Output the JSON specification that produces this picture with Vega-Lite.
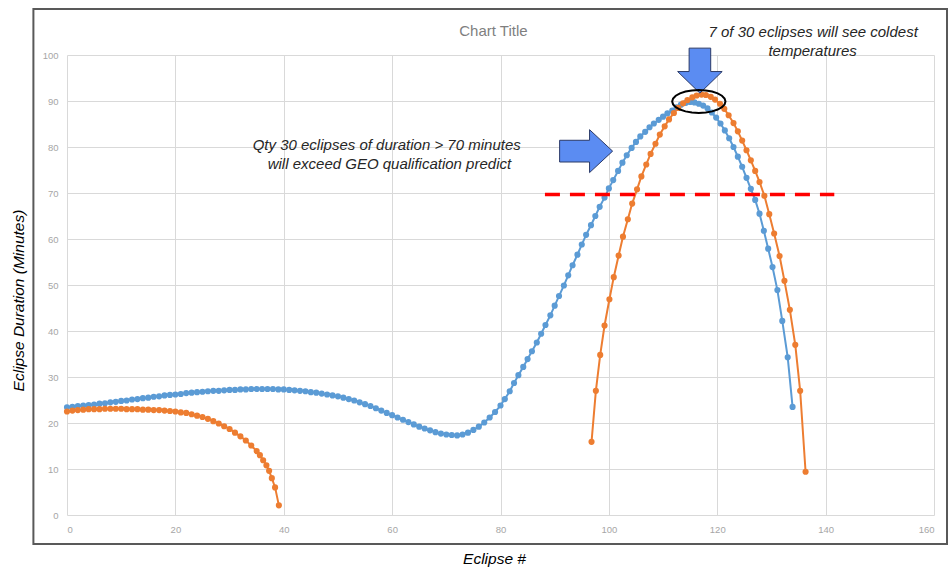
{
  "$schema": "https://vega.github.io/schema/vega-lite/v6.json",
  "width": 867,
  "height": 460,
  "autosize": {"type": "none"},
  "padding": {"left": 67, "top": 55, "right": 17, "bottom": 52},
  "background": "white",
  "config": {
    "view": {"stroke": null},
    "axis": {
      "gridColor": "#D9D9D9",
      "gridWidth": 1,
      "domain": false,
      "ticks": false,
      "labelColor": "#A6A6A6",
      "labelFont": "Liberation Sans",
      "labelFontSize": 9.5,
      "titleFont": "Liberation Sans",
      "titleFontStyle": "italic",
      "titleFontWeight": "normal",
      "titleColor": "#000000",
      "titleFontSize": 15.5
    }
  },
  "datasets": {
    "one": [{}],
    "eclipses": [
      {"n": 0, "d": 23.4, "series": "Series1", "seg": "B"},
      {"n": 1, "d": 23.5, "series": "Series1", "seg": "B"},
      {"n": 2, "d": 23.7, "series": "Series1", "seg": "B"},
      {"n": 3, "d": 23.8, "series": "Series1", "seg": "B"},
      {"n": 4, "d": 23.9, "series": "Series1", "seg": "B"},
      {"n": 5, "d": 24.0, "series": "Series1", "seg": "B"},
      {"n": 6, "d": 24.2, "series": "Series1", "seg": "B"},
      {"n": 7, "d": 24.3, "series": "Series1", "seg": "B"},
      {"n": 8, "d": 24.5, "series": "Series1", "seg": "B"},
      {"n": 9, "d": 24.6, "series": "Series1", "seg": "B"},
      {"n": 10, "d": 24.8, "series": "Series1", "seg": "B"},
      {"n": 11, "d": 24.9, "series": "Series1", "seg": "B"},
      {"n": 12, "d": 25.1, "series": "Series1", "seg": "B"},
      {"n": 13, "d": 25.2, "series": "Series1", "seg": "B"},
      {"n": 14, "d": 25.4, "series": "Series1", "seg": "B"},
      {"n": 15, "d": 25.5, "series": "Series1", "seg": "B"},
      {"n": 16, "d": 25.7, "series": "Series1", "seg": "B"},
      {"n": 17, "d": 25.8, "series": "Series1", "seg": "B"},
      {"n": 18, "d": 26.0, "series": "Series1", "seg": "B"},
      {"n": 19, "d": 26.1, "series": "Series1", "seg": "B"},
      {"n": 20, "d": 26.2, "series": "Series1", "seg": "B"},
      {"n": 21, "d": 26.3, "series": "Series1", "seg": "B"},
      {"n": 22, "d": 26.5, "series": "Series1", "seg": "B"},
      {"n": 23, "d": 26.6, "series": "Series1", "seg": "B"},
      {"n": 24, "d": 26.7, "series": "Series1", "seg": "B"},
      {"n": 25, "d": 26.8, "series": "Series1", "seg": "B"},
      {"n": 26, "d": 26.9, "series": "Series1", "seg": "B"},
      {"n": 27, "d": 27.0, "series": "Series1", "seg": "B"},
      {"n": 28, "d": 27.0, "series": "Series1", "seg": "B"},
      {"n": 29, "d": 27.1, "series": "Series1", "seg": "B"},
      {"n": 30, "d": 27.2, "series": "Series1", "seg": "B"},
      {"n": 31, "d": 27.2, "series": "Series1", "seg": "B"},
      {"n": 32, "d": 27.3, "series": "Series1", "seg": "B"},
      {"n": 33, "d": 27.3, "series": "Series1", "seg": "B"},
      {"n": 34, "d": 27.4, "series": "Series1", "seg": "B"},
      {"n": 35, "d": 27.4, "series": "Series1", "seg": "B"},
      {"n": 36, "d": 27.4, "series": "Series1", "seg": "B"},
      {"n": 37, "d": 27.4, "series": "Series1", "seg": "B"},
      {"n": 38, "d": 27.4, "series": "Series1", "seg": "B"},
      {"n": 39, "d": 27.3, "series": "Series1", "seg": "B"},
      {"n": 40, "d": 27.3, "series": "Series1", "seg": "B"},
      {"n": 41, "d": 27.2, "series": "Series1", "seg": "B"},
      {"n": 42, "d": 27.1, "series": "Series1", "seg": "B"},
      {"n": 43, "d": 27.0, "series": "Series1", "seg": "B"},
      {"n": 44, "d": 26.9, "series": "Series1", "seg": "B"},
      {"n": 45, "d": 26.7, "series": "Series1", "seg": "B"},
      {"n": 46, "d": 26.6, "series": "Series1", "seg": "B"},
      {"n": 47, "d": 26.4, "series": "Series1", "seg": "B"},
      {"n": 48, "d": 26.2, "series": "Series1", "seg": "B"},
      {"n": 49, "d": 26.0, "series": "Series1", "seg": "B"},
      {"n": 50, "d": 25.8, "series": "Series1", "seg": "B"},
      {"n": 51, "d": 25.5, "series": "Series1", "seg": "B"},
      {"n": 52, "d": 25.2, "series": "Series1", "seg": "B"},
      {"n": 53, "d": 24.9, "series": "Series1", "seg": "B"},
      {"n": 54, "d": 24.5, "series": "Series1", "seg": "B"},
      {"n": 55, "d": 24.1, "series": "Series1", "seg": "B"},
      {"n": 56, "d": 23.7, "series": "Series1", "seg": "B"},
      {"n": 57, "d": 23.2, "series": "Series1", "seg": "B"},
      {"n": 58, "d": 22.7, "series": "Series1", "seg": "B"},
      {"n": 59, "d": 22.2, "series": "Series1", "seg": "B"},
      {"n": 60, "d": 21.7, "series": "Series1", "seg": "B"},
      {"n": 61, "d": 21.2, "series": "Series1", "seg": "B"},
      {"n": 62, "d": 20.7, "series": "Series1", "seg": "B"},
      {"n": 63, "d": 20.2, "series": "Series1", "seg": "B"},
      {"n": 64, "d": 19.7, "series": "Series1", "seg": "B"},
      {"n": 65, "d": 19.2, "series": "Series1", "seg": "B"},
      {"n": 66, "d": 18.8, "series": "Series1", "seg": "B"},
      {"n": 67, "d": 18.4, "series": "Series1", "seg": "B"},
      {"n": 68, "d": 18.0, "series": "Series1", "seg": "B"},
      {"n": 69, "d": 17.7, "series": "Series1", "seg": "B"},
      {"n": 70, "d": 17.5, "series": "Series1", "seg": "B"},
      {"n": 71, "d": 17.4, "series": "Series1", "seg": "B"},
      {"n": 72, "d": 17.3, "series": "Series1", "seg": "B"},
      {"n": 73, "d": 17.5, "series": "Series1", "seg": "B"},
      {"n": 74, "d": 17.9, "series": "Series1", "seg": "B"},
      {"n": 75, "d": 18.5, "series": "Series1", "seg": "B"},
      {"n": 76, "d": 19.2, "series": "Series1", "seg": "B"},
      {"n": 77, "d": 20.1, "series": "Series1", "seg": "B"},
      {"n": 78, "d": 21.2, "series": "Series1", "seg": "B"},
      {"n": 79, "d": 22.4, "series": "Series1", "seg": "B"},
      {"n": 80, "d": 23.8, "series": "Series1", "seg": "B"},
      {"n": 80.8, "d": 25.2, "series": "Series1", "seg": "B"},
      {"n": 81.7, "d": 26.9, "series": "Series1", "seg": "B"},
      {"n": 82.5, "d": 28.7, "series": "Series1", "seg": "B"},
      {"n": 83.3, "d": 30.4, "series": "Series1", "seg": "B"},
      {"n": 84.2, "d": 32.2, "series": "Series1", "seg": "B"},
      {"n": 85.0, "d": 33.9, "series": "Series1", "seg": "B"},
      {"n": 85.8, "d": 35.6, "series": "Series1", "seg": "B"},
      {"n": 86.7, "d": 37.5, "series": "Series1", "seg": "B"},
      {"n": 87.5, "d": 39.4, "series": "Series1", "seg": "B"},
      {"n": 88.3, "d": 41.3, "series": "Series1", "seg": "B"},
      {"n": 89.2, "d": 43.4, "series": "Series1", "seg": "B"},
      {"n": 90.0, "d": 45.5, "series": "Series1", "seg": "B"},
      {"n": 90.8, "d": 47.6, "series": "Series1", "seg": "B"},
      {"n": 91.7, "d": 49.9, "series": "Series1", "seg": "B"},
      {"n": 92.5, "d": 52.1, "series": "Series1", "seg": "B"},
      {"n": 93.3, "d": 54.3, "series": "Series1", "seg": "B"},
      {"n": 94.2, "d": 56.6, "series": "Series1", "seg": "B"},
      {"n": 95.0, "d": 58.8, "series": "Series1", "seg": "B"},
      {"n": 95.8, "d": 60.9, "series": "Series1", "seg": "B"},
      {"n": 96.7, "d": 63.0, "series": "Series1", "seg": "B"},
      {"n": 97.5, "d": 65.0, "series": "Series1", "seg": "B"},
      {"n": 98.3, "d": 67.0, "series": "Series1", "seg": "B"},
      {"n": 99.2, "d": 69.0, "series": "Series1", "seg": "B"},
      {"n": 100.0, "d": 71.0, "series": "Series1", "seg": "B"},
      {"n": 100.8, "d": 72.8, "series": "Series1", "seg": "B"},
      {"n": 101.7, "d": 74.8, "series": "Series1", "seg": "B"},
      {"n": 102.5, "d": 76.6, "series": "Series1", "seg": "B"},
      {"n": 103.3, "d": 78.2, "series": "Series1", "seg": "B"},
      {"n": 104.2, "d": 79.8, "series": "Series1", "seg": "B"},
      {"n": 105.0, "d": 81.1, "series": "Series1", "seg": "B"},
      {"n": 105.8, "d": 82.3, "series": "Series1", "seg": "B"},
      {"n": 106.7, "d": 83.3, "series": "Series1", "seg": "B"},
      {"n": 107.5, "d": 84.3, "series": "Series1", "seg": "B"},
      {"n": 108.3, "d": 85.1, "series": "Series1", "seg": "B"},
      {"n": 109.2, "d": 85.9, "series": "Series1", "seg": "B"},
      {"n": 110.0, "d": 86.6, "series": "Series1", "seg": "B"},
      {"n": 110.8, "d": 87.3, "series": "Series1", "seg": "B"},
      {"n": 111.7, "d": 87.9, "series": "Series1", "seg": "B"},
      {"n": 112.5, "d": 88.6, "series": "Series1", "seg": "B"},
      {"n": 113.3, "d": 89.2, "series": "Series1", "seg": "B"},
      {"n": 114.2, "d": 89.6, "series": "Series1", "seg": "B"},
      {"n": 115.0, "d": 89.8, "series": "Series1", "seg": "B"},
      {"n": 115.8, "d": 89.7, "series": "Series1", "seg": "B"},
      {"n": 116.6, "d": 89.4, "series": "Series1", "seg": "B"},
      {"n": 117.4, "d": 89.0, "series": "Series1", "seg": "B"},
      {"n": 118.2, "d": 88.4, "series": "Series1", "seg": "B"},
      {"n": 119.0, "d": 87.5, "series": "Series1", "seg": "B"},
      {"n": 119.8, "d": 86.4, "series": "Series1", "seg": "B"},
      {"n": 120.6, "d": 85.1, "series": "Series1", "seg": "B"},
      {"n": 121.4, "d": 83.6, "series": "Series1", "seg": "B"},
      {"n": 122.2, "d": 81.9, "series": "Series1", "seg": "B"},
      {"n": 123.0, "d": 80.0, "series": "Series1", "seg": "B"},
      {"n": 123.8, "d": 77.9, "series": "Series1", "seg": "B"},
      {"n": 124.6, "d": 75.7, "series": "Series1", "seg": "B"},
      {"n": 125.4, "d": 73.3, "series": "Series1", "seg": "B"},
      {"n": 126.2, "d": 70.9, "series": "Series1", "seg": "B"},
      {"n": 127.0, "d": 68.5, "series": "Series1", "seg": "B"},
      {"n": 127.8, "d": 65.5, "series": "Series1", "seg": "B"},
      {"n": 128.6, "d": 61.8, "series": "Series1", "seg": "B"},
      {"n": 129.4, "d": 57.9, "series": "Series1", "seg": "B"},
      {"n": 130.2, "d": 53.9, "series": "Series1", "seg": "B"},
      {"n": 131.1, "d": 48.9, "series": "Series1", "seg": "B"},
      {"n": 132.0, "d": 42.2, "series": "Series1", "seg": "B"},
      {"n": 133.0, "d": 34.3, "series": "Series1", "seg": "B"},
      {"n": 133.9, "d": 23.5, "series": "Series1", "seg": "B"},
      {"n": 0, "d": 22.5, "series": "Series2", "seg": "O1"},
      {"n": 1, "d": 22.7, "series": "Series2", "seg": "O1"},
      {"n": 2, "d": 22.8, "series": "Series2", "seg": "O1"},
      {"n": 3, "d": 22.9, "series": "Series2", "seg": "O1"},
      {"n": 4, "d": 23.0, "series": "Series2", "seg": "O1"},
      {"n": 5, "d": 23.0, "series": "Series2", "seg": "O1"},
      {"n": 6, "d": 23.0, "series": "Series2", "seg": "O1"},
      {"n": 7, "d": 23.1, "series": "Series2", "seg": "O1"},
      {"n": 8, "d": 23.1, "series": "Series2", "seg": "O1"},
      {"n": 9, "d": 23.1, "series": "Series2", "seg": "O1"},
      {"n": 10, "d": 23.1, "series": "Series2", "seg": "O1"},
      {"n": 11, "d": 23.0, "series": "Series2", "seg": "O1"},
      {"n": 12, "d": 23.0, "series": "Series2", "seg": "O1"},
      {"n": 13, "d": 23.0, "series": "Series2", "seg": "O1"},
      {"n": 14, "d": 22.9, "series": "Series2", "seg": "O1"},
      {"n": 15, "d": 22.9, "series": "Series2", "seg": "O1"},
      {"n": 16, "d": 22.8, "series": "Series2", "seg": "O1"},
      {"n": 17, "d": 22.8, "series": "Series2", "seg": "O1"},
      {"n": 18, "d": 22.7, "series": "Series2", "seg": "O1"},
      {"n": 19, "d": 22.6, "series": "Series2", "seg": "O1"},
      {"n": 20, "d": 22.5, "series": "Series2", "seg": "O1"},
      {"n": 21, "d": 22.3, "series": "Series2", "seg": "O1"},
      {"n": 22, "d": 22.2, "series": "Series2", "seg": "O1"},
      {"n": 23, "d": 21.9, "series": "Series2", "seg": "O1"},
      {"n": 24, "d": 21.6, "series": "Series2", "seg": "O1"},
      {"n": 25, "d": 21.3, "series": "Series2", "seg": "O1"},
      {"n": 26, "d": 20.9, "series": "Series2", "seg": "O1"},
      {"n": 27, "d": 20.4, "series": "Series2", "seg": "O1"},
      {"n": 28, "d": 19.9, "series": "Series2", "seg": "O1"},
      {"n": 29, "d": 19.3, "series": "Series2", "seg": "O1"},
      {"n": 30, "d": 18.7, "series": "Series2", "seg": "O1"},
      {"n": 31, "d": 17.9, "series": "Series2", "seg": "O1"},
      {"n": 32, "d": 17.1, "series": "Series2", "seg": "O1"},
      {"n": 33, "d": 16.2, "series": "Series2", "seg": "O1"},
      {"n": 34, "d": 15.1, "series": "Series2", "seg": "O1"},
      {"n": 35, "d": 13.9, "series": "Series2", "seg": "O1"},
      {"n": 35.6, "d": 13.0, "series": "Series2", "seg": "O1"},
      {"n": 36.2, "d": 11.9, "series": "Series2", "seg": "O1"},
      {"n": 36.8, "d": 10.8, "series": "Series2", "seg": "O1"},
      {"n": 37.3, "d": 9.6, "series": "Series2", "seg": "O1"},
      {"n": 37.8, "d": 8.0, "series": "Series2", "seg": "O1"},
      {"n": 38.4, "d": 6.0, "series": "Series2", "seg": "O1"},
      {"n": 39.1, "d": 2.1, "series": "Series2", "seg": "O1"},
      {"n": 96.8, "d": 15.9, "series": "Series2", "seg": "O2"},
      {"n": 97.6, "d": 27.0, "series": "Series2", "seg": "O2"},
      {"n": 98.4, "d": 34.8, "series": "Series2", "seg": "O2"},
      {"n": 99.2, "d": 41.2, "series": "Series2", "seg": "O2"},
      {"n": 100.1, "d": 46.9, "series": "Series2", "seg": "O2"},
      {"n": 100.9, "d": 51.7, "series": "Series2", "seg": "O2"},
      {"n": 101.8, "d": 56.4, "series": "Series2", "seg": "O2"},
      {"n": 102.6, "d": 60.5, "series": "Series2", "seg": "O2"},
      {"n": 103.5, "d": 64.3, "series": "Series2", "seg": "O2"},
      {"n": 104.3, "d": 67.7, "series": "Series2", "seg": "O2"},
      {"n": 105.2, "d": 70.8, "series": "Series2", "seg": "O2"},
      {"n": 106.0, "d": 73.6, "series": "Series2", "seg": "O2"},
      {"n": 106.9, "d": 76.2, "series": "Series2", "seg": "O2"},
      {"n": 107.7, "d": 78.5, "series": "Series2", "seg": "O2"},
      {"n": 108.6, "d": 80.7, "series": "Series2", "seg": "O2"},
      {"n": 109.4, "d": 82.7, "series": "Series2", "seg": "O2"},
      {"n": 110.3, "d": 84.5, "series": "Series2", "seg": "O2"},
      {"n": 111.1, "d": 86.0, "series": "Series2", "seg": "O2"},
      {"n": 112.0, "d": 87.4, "series": "Series2", "seg": "O2"},
      {"n": 112.8, "d": 88.5, "series": "Series2", "seg": "O2"},
      {"n": 113.7, "d": 89.5, "series": "Series2", "seg": "O2"},
      {"n": 114.5, "d": 90.2, "series": "Series2", "seg": "O2"},
      {"n": 115.4, "d": 90.8, "series": "Series2", "seg": "O2"},
      {"n": 116.2, "d": 91.2, "series": "Series2", "seg": "O2"},
      {"n": 117.1, "d": 91.4, "series": "Series2", "seg": "O2"},
      {"n": 117.9, "d": 91.3, "series": "Series2", "seg": "O2"},
      {"n": 118.8, "d": 90.9, "series": "Series2", "seg": "O2"},
      {"n": 119.6, "d": 90.3, "series": "Series2", "seg": "O2"},
      {"n": 120.5, "d": 89.4, "series": "Series2", "seg": "O2"},
      {"n": 121.3, "d": 88.3, "series": "Series2", "seg": "O2"},
      {"n": 122.1, "d": 86.9, "series": "Series2", "seg": "O2"},
      {"n": 123.0, "d": 85.2, "series": "Series2", "seg": "O2"},
      {"n": 123.8, "d": 83.4, "series": "Series2", "seg": "O2"},
      {"n": 124.6, "d": 81.4, "series": "Series2", "seg": "O2"},
      {"n": 125.4, "d": 79.3, "series": "Series2", "seg": "O2"},
      {"n": 126.2, "d": 77.1, "series": "Series2", "seg": "O2"},
      {"n": 127.0, "d": 74.8, "series": "Series2", "seg": "O2"},
      {"n": 127.8, "d": 72.4, "series": "Series2", "seg": "O2"},
      {"n": 128.7, "d": 69.4, "series": "Series2", "seg": "O2"},
      {"n": 129.6, "d": 65.4, "series": "Series2", "seg": "O2"},
      {"n": 130.5, "d": 61.2, "series": "Series2", "seg": "O2"},
      {"n": 131.5, "d": 56.3, "series": "Series2", "seg": "O2"},
      {"n": 132.4, "d": 50.9, "series": "Series2", "seg": "O2"},
      {"n": 133.4, "d": 44.6, "series": "Series2", "seg": "O2"},
      {"n": 134.4, "d": 37.0, "series": "Series2", "seg": "O2"},
      {"n": 135.3, "d": 27.0, "series": "Series2", "seg": "O2"},
      {"n": 136.3, "d": 9.4, "series": "Series2", "seg": "O2"}
    ]
  },
  "layer": [
    {
      "data": {"name": "eclipses"},
      "mark": {"type": "line", "strokeWidth": 2, "point": {"filled": true, "size": 38, "opacity": 1}},
      "encoding": {
        "x": {
          "field": "n", "type": "quantitative",
          "scale": {"domain": [0, 160], "nice": false, "zero": false},
          "axis": {
            "title": "Eclipse #",
            "values": [0, 20, 40, 60, 80, 100, 120, 140, 160],
            "labelPadding": 9,
            "titleX": 427, "titleY": 36, "titleBaseline": "top", "titleAlign": "center"
          }
        },
        "y": {
          "field": "d", "type": "quantitative",
          "scale": {"domain": [0, 100], "nice": false, "zero": false},
          "axis": {
            "title": "Eclipse Duration (Minutes)",
            "values": [0, 10, 20, 30, 40, 50, 60, 70, 80, 90, 100],
            "labelPadding": 9,
            "titleX": -49, "titleY": 245, "titleAngle": -90, "titleBaseline": "middle", "titleAlign": "center"
          }
        },
        "color": {"field": "series", "type": "nominal", "scale": {"domain": ["Series1", "Series2"], "range": ["#5B9BD5", "#ED7D31"]}, "legend": null},
        "detail": {"field": "seg"}
      }
    },
    {
      "data": {"name": "one"},
      "mark": {"type": "rect", "filled": false, "stroke": "#595959", "strokeWidth": 2},
      "encoding": {
        "x": {"datum": -6.2, "type": "quantitative"},
        "x2": {"datum": 162.4},
        "y": {"datum": 110.0, "type": "quantitative"},
        "y2": {"datum": -6.3}
      }
    },
    {
      "data": {"name": "one"},
      "mark": {"type": "rule", "color": "#FF0000", "strokeWidth": 3.5, "strokeDash": [15, 10], "strokeCap": "butt"},
      "encoding": {
        "x": {"datum": 88.2, "type": "quantitative"},
        "x2": {"datum": 141.6},
        "y": {"datum": 69.7, "type": "quantitative"}
      }
    },
    {
      "data": {"name": "one"},
      "mark": {"type": "point", "filled": true, "fill": "#5B8CF2", "stroke": "#2B3A67", "strokeWidth": 1, "opacity": 1,
        "shape": "M -1 -0.41 L 0.13 -0.41 L 0.13 -0.81 L 1 0 L 0.13 0.81 L 0.13 0.41 L -1 0.41 Z", "size": 2809},
      "encoding": {
        "x": {"datum": 95.8, "type": "quantitative"},
        "y": {"datum": 79.1, "type": "quantitative"}
      }
    },
    {
      "data": {"name": "one"},
      "mark": {"type": "point", "filled": true, "fill": "#5B8CF2", "stroke": "#2B3A67", "strokeWidth": 1, "opacity": 1,
        "shape": "M -0.48 -1 L 0.48 -1 L 0.48 0.04 L 0.99 0.04 L 0 1 L -0.99 0.04 L -0.48 0.04 Z", "size": 2025},
      "encoding": {
        "x": {"datum": 116.8, "type": "quantitative"},
        "y": {"datum": 96.6, "type": "quantitative"}
      }
    },
    {
      "data": {"name": "one"},
      "mark": {"type": "point", "filled": false, "stroke": "#000000", "strokeWidth": 2, "opacity": 1,
        "shape": "M 1 0 L 0.966 0.111 L 0.866 0.215 L 0.707 0.304 L 0.5 0.372 L 0.259 0.415 L 0 0.43 L -0.259 0.415 L -0.5 0.372 L -0.707 0.304 L -0.866 0.215 L -0.966 0.111 L -1 0 L -0.966 -0.111 L -0.866 -0.215 L -0.707 -0.304 L -0.5 -0.372 L -0.259 -0.415 L 0 -0.43 L 0.259 -0.415 L 0.5 -0.372 L 0.707 -0.304 L 0.866 -0.215 L 0.966 -0.111 Z", "size": 2841},
      "encoding": {
        "x": {"datum": 116.6, "type": "quantitative"},
        "y": {"datum": 89.9, "type": "quantitative"}
      }
    },
    {
      "data": {"name": "one"},
      "mark": {"type": "text", "text": "Chart Title", "font": "Liberation Sans", "fontSize": 15, "color": "#7F7F7F", "align": "center", "baseline": "middle"},
      "encoding": {
        "x": {"datum": 78.7, "type": "quantitative"},
        "y": {"datum": 105.3, "type": "quantitative"}
      }
    },
    {
      "data": {"name": "one"},
      "mark": {"type": "text", "text": "Qty 30 eclipses of duration > 70 minutes", "font": "Liberation Sans", "fontStyle": "italic", "fontSize": 15, "color": "#262626", "align": "center", "baseline": "middle"},
      "encoding": {
        "x": {"datum": 59.0, "type": "quantitative"},
        "y": {"datum": 80.4, "type": "quantitative"}
      }
    },
    {
      "data": {"name": "one"},
      "mark": {"type": "text", "text": "will exceed GEO qualification predict", "font": "Liberation Sans", "fontStyle": "italic", "fontSize": 15, "color": "#262626", "align": "center", "baseline": "middle"},
      "encoding": {
        "x": {"datum": 59.5, "type": "quantitative"},
        "y": {"datum": 76.2, "type": "quantitative"}
      }
    },
    {
      "data": {"name": "one"},
      "mark": {"type": "text", "text": "7 of 30 eclipses will see coldest", "font": "Liberation Sans", "fontStyle": "italic", "fontSize": 15, "color": "#262626", "align": "center", "baseline": "middle"},
      "encoding": {
        "x": {"datum": 137.7, "type": "quantitative"},
        "y": {"datum": 105.0, "type": "quantitative"}
      }
    },
    {
      "data": {"name": "one"},
      "mark": {"type": "text", "text": "temperatures", "font": "Liberation Sans", "fontStyle": "italic", "fontSize": 15, "color": "#262626", "align": "center", "baseline": "middle"},
      "encoding": {
        "x": {"datum": 137.6, "type": "quantitative"},
        "y": {"datum": 100.9, "type": "quantitative"}
      }
    }
  ]
}
